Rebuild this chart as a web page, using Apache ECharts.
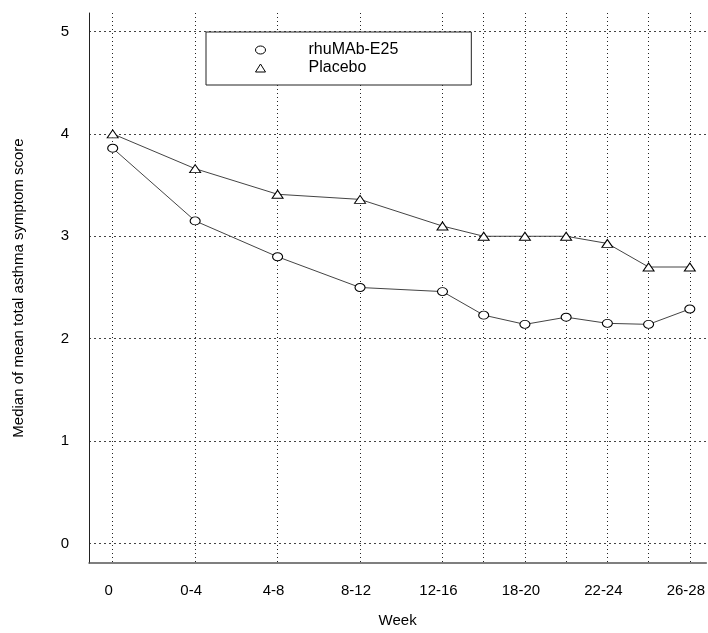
<!DOCTYPE html>
<html>
<head>
<meta charset="utf-8">
<script src="https://cdn.jsdelivr.net/npm/echarts@6/dist/echarts.min.js"></script>
<style>
html,body{margin:0;padding:0;background:#fff;}
#chart{width:708px;height:633px;}
</style>
</head>
<body>
<div id="chart"></div>
<script>
// ---- data ----
var weeks = [0, 4, 8, 12, 16, 18, 20, 22, 24, 26, 28];
var labelWeeks = [0, 4, 8, 12, 16, 20, 24, 28];
var tickLabels = ['0', '0-4', '4-8', '8-12', '12-16', '18-20', '22-24', '26-28'];
var yTicks = [0, 1, 2, 3, 4, 5];
var rhuMAb = [3.86, 3.15, 2.80, 2.50, 2.46, 2.23, 2.14, 2.21, 2.15, 2.14, 2.29];
var placebo = [4.00, 3.66, 3.41, 3.36, 3.10, 3.00, 3.00, 3.00, 2.93, 2.70, 2.70];
var seriesNames = ['rhuMAb-E25', 'Placebo'];

function pairs(xs, ys) { return xs.map(function (x, i) { return [x, ys[i]]; }); }

var font = 'Liberation Sans, Arial, sans-serif';
var chart = echarts.init(document.getElementById('chart'));
chart.setOption({
  animation: false,
  backgroundColor: '#fff',
  grid: { left: 89, right: 0, top: 13, bottom: 68, containLabel: false },
  legend: {
    left: 206, top: 32,
    orient: 'vertical',
    data: [
      { name: seriesNames[0], icon: 'path://M0,4a5,4 0 1,0 10,0a5,4 0 1,0 -10,0Z' },
      { name: seriesNames[1], icon: 'triangle' }
    ],
    itemWidth: 10, itemHeight: 8, itemGap: 2,
    padding: [10, 73, 9, 49],
    borderColor: '#222', borderWidth: 1,
    backgroundColor: '#fff',
    itemStyle: { color: '#fff', borderColor: '#000', borderWidth: 1 },
    textStyle: { fontFamily: font, fontSize: 16, color: '#000', padding: [0, 0, 0, 38], lineHeight: 16 }
  },
  xAxis: {
    type: 'value', min: -1.15, max: 28.8,
    name: 'Week', nameLocation: 'middle', nameGap: 50,
    nameTextStyle: { fontFamily: font, fontSize: 15, color: '#000' },
    axisLine: { show: true, onZero: false, lineStyle: { color: '#555', width: 1.5 } },
    axisTick: { show: false, customValues: weeks },
    axisLabel: {
      customValues: labelWeeks,
      margin: 20,
      fontFamily: font, fontSize: 15, color: '#000',
      padding: [0, 8, 0, 0],
      formatter: function (v) { var i = labelWeeks.indexOf(v); return i >= 0 ? tickLabels[i] : ''; }
    },
    splitLine: { show: true, lineStyle: { color: '#222', type: [1, 3], width: 1 } }
  },
  yAxis: {
    type: 'value', min: -0.19, max: 5.18,
    name: 'Median of mean total asthma symptom score', nameLocation: 'middle', nameGap: 63,
    nameTextStyle: { fontFamily: font, fontSize: 15, color: '#000' },
    axisLine: { show: true, onZero: false, lineStyle: { color: '#222', width: 1 } },
    axisTick: { show: false, customValues: yTicks },
    axisLabel: { customValues: yTicks, margin: 20, fontFamily: font, fontSize: 15, color: '#000', padding: [6, 0, 0, 0] },
    splitLine: { show: true, lineStyle: { color: '#444', type: [2, 3], width: 1 } }
  },
  series: [
    {
      name: seriesNames[0], type: 'line', data: pairs(weeks, rhuMAb),
      symbol: 'path://M0,4a5,4 0 1,0 10,0a5,4 0 1,0 -10,0Z', symbolSize: [10, 8],
      lineStyle: { color: '#444', width: 1 },
      itemStyle: { color: '#fff', borderColor: '#000', borderWidth: 1 },
      z: 3
    },
    {
      name: seriesNames[1], type: 'line', data: pairs(weeks, placebo),
      symbol: 'triangle', symbolSize: [11, 8],
      lineStyle: { color: '#444', width: 1 },
      itemStyle: { color: '#fff', borderColor: '#000', borderWidth: 1 },
      z: 3
    }
  ]
});
</script>
</body>
</html>
